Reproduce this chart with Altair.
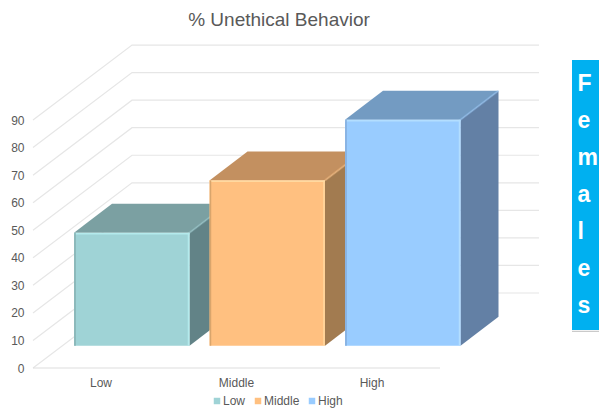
import altair as alt
import pandas as pd

categories = ["Low", "Middle", "High"]
values = [41, 60, 82]
front_colors = ["#9FD3D6", "#FFC080", "#99CCFF"]
side_colors = ["#628387", "#A27B50", "#6380A5"]
top_colors = ["#7BA0A2", "#C39060", "#739BC2"]
light_colors = ["#B4EAEC", "#FFD9A0", "#B3DEFF"]
dark_colors = ["#86B0B2", "#D9A56C", "#84ADDB"]
grid_levels = [0, 10, 20, 30, 40, 50, 60, 70, 80, 90]
panel_letters = ["F", "e", "m", "a", "l", "e", "s"]

W, H = 566, 338
Y_MAX = H / 2.755
WALL_X, WALL_Y = 99, 75 / 2.755       # depth of the side wall
WALL_W = 407                           # width of the back wall
BASE = 8.1                             # floor level under the bars
BAR_W, STEP, START = 115.5, 135.5, 41
DEPTH_X, DEPTH_Y = 38, 29 / 2.755
FONT = "Liberation Sans"
GREY = "#595959"
GRID = "#E6E6E6"

xs = alt.Scale(domain=[0, W], nice=False, zero=False)
ys = alt.Scale(domain=[0, Y_MAX], nice=False, zero=False)
y_axis = alt.Axis(values=grid_levels, domain=False, ticks=False, grid=False,
                  labelColor=GREY, labelFont=FONT, labelFontSize=12,
                  labelPadding=9, title=None)
X = lambda f: alt.X(f, type="quantitative", scale=xs, axis=None)
Y = lambda f: alt.Y(f, type="quantitative", scale=ys, axis=y_axis, title=None)

layers = []

# walls
grid_rows = []
for v in grid_levels:
    grid_rows += [
        {"level": v, "x": 0, "y": v * 1.0},
        {"level": v, "x": WALL_X, "y": v + WALL_Y},
        {"level": v, "x": WALL_X + WALL_W, "y": v + WALL_Y},
    ]
layers.append(
    alt.Chart(pd.DataFrame(grid_rows)).mark_line(color=GRID, strokeWidth=1.2).encode(
        x=X("x"), y=Y("y"), detail="level:N",
    )
)
layers.append(
    alt.Chart(pd.DataFrame({"x": [0, WALL_W], "y": [0, 0]})).mark_line(color="#DDDDDD", strokeWidth=1.2)
    .encode(x=X("x"), y=Y("y"))
)

# bars, left to right so that each front covers the previous side
for i, (cat, val) in enumerate(zip(categories, values)):
    l = START + STEP * i
    r = l + BAR_W
    t = BASE + val
    top = pd.DataFrame({
        "x": [l, l + DEPTH_X, r, r + DEPTH_X],
        "y": [t, t, t, t + DEPTH_Y],
        "y2": [t, t + DEPTH_Y, t + DEPTH_Y, t + DEPTH_Y],
    })
    side = pd.DataFrame({
        "x": [r, r + DEPTH_X],
        "y": [BASE, BASE + DEPTH_Y],
        "y2": [t, t + DEPTH_Y],
    })
    front = pd.DataFrame({"series": [cat], "x": [l], "x2": [r], "y": [BASE], "y2": [t]})
    layers.append(alt.Chart(top).mark_area(color=top_colors[i]).encode(x=X("x"), y=Y("y"), y2="y2"))
    layers.append(alt.Chart(side).mark_area(color=side_colors[i]).encode(x=X("x"), y=Y("y"), y2="y2"))
    layers.append(
        alt.Chart(front).mark_rect().encode(
            x=X("x"), x2="x2", y=Y("y"), y2="y2",
            color=alt.Color("series:N",
                            scale=alt.Scale(domain=categories, range=front_colors),
                            legend=alt.Legend(orient="none", legendX=178, legendY=365,
                                              direction="horizontal", title=None,
                                              symbolType="square", symbolSize=42,
                                              symbolStrokeWidth=0, labelOffset=0,
                                              labelFont=FONT, labelFontSize=12,
                                              labelColor=GREY, columnPadding=6,
                                              columns=3)),
        )
    )
    edge_diag = pd.DataFrame({"x": [r, r + DEPTH_X], "y": [t, t + DEPTH_Y]})
    layers.append(alt.Chart(edge_diag).mark_line(color=front_colors[i], strokeWidth=2, opacity=0.45)
                  .encode(x=X("x"), y=Y("y")))
    edges = [
        (l, r, t - 0.35, t - 0.35, light_colors[i]),
        (r - 1, r - 1, BASE, t, light_colors[i]),
        (l + 1, l + 1, BASE, t, dark_colors[i]),
    ]
    for x1, x2, y1, y2, col in edges:
        e = pd.DataFrame({"x": [x1], "x2": [x2], "y": [y1], "y2": [y2]})
        if y1 == y2:
            layers.append(alt.Chart(e).mark_rule(color=col, strokeWidth=1.5)
                          .encode(x=X("x"), x2="x2", y=Y("y")))
        else:
            layers.append(alt.Chart(e).mark_rule(color=col, strokeWidth=1.5)
                          .encode(x=X("x"), y=Y("y"), y2="y2"))

# category labels
cat_df = pd.DataFrame({"label": categories, "x": [68 + STEP * i for i in range(3)], "y": [-5.4] * 3})
layers.append(
    alt.Chart(cat_df).mark_text(font=FONT, fontSize=12, color=GREY, align="center", baseline="middle")
    .encode(x=X("x"), y=Y("y"), text="label:N")
)

# side panel
panel = pd.DataFrame({"x": [539], "x2": [566], "y": [13.8], "y2": [111.8]})
layers.append(alt.Chart(panel).mark_rect(color="#00B0F0").encode(x=X("x"), x2="x2", y=Y("y"), y2="y2"))
panel_edge = pd.DataFrame({"x": [539], "x2": [566], "y": [13.3]})
layers.append(alt.Chart(panel_edge).mark_rule(color="#C8C8C8", strokeWidth=1.2).encode(x=X("x"), x2="x2", y=Y("y")))
letters = pd.DataFrame({"t": panel_letters, "i": range(7)})
letters["x"] = 544.5
letters["y"] = 100.65 - 13.45 * letters["i"]
layers.append(
    alt.Chart(letters).mark_text(font=FONT, fontSize=23, fontWeight="bold", color="white",
                                 align="left", baseline="alphabetic")
    .encode(x=X("x"), y=Y("y"), text="t:N", detail="i:O")
)

chart = alt.layer(*layers).properties(
    width=W, height=H,
    title=alt.TitleParams("% Unethical Behavior", font=FONT, fontSize=19, fontWeight="normal",
                          color=GREY, anchor="middle", dx=-37, offset=0),
    padding={"left": 25, "top": 22, "right": 0, "bottom": 41},
    autosize=alt.AutoSizeParams(type="none"),
).configure_view(stroke=None)

chart.save("out.html", embed_options={"renderer": "svg", "actions": False})
